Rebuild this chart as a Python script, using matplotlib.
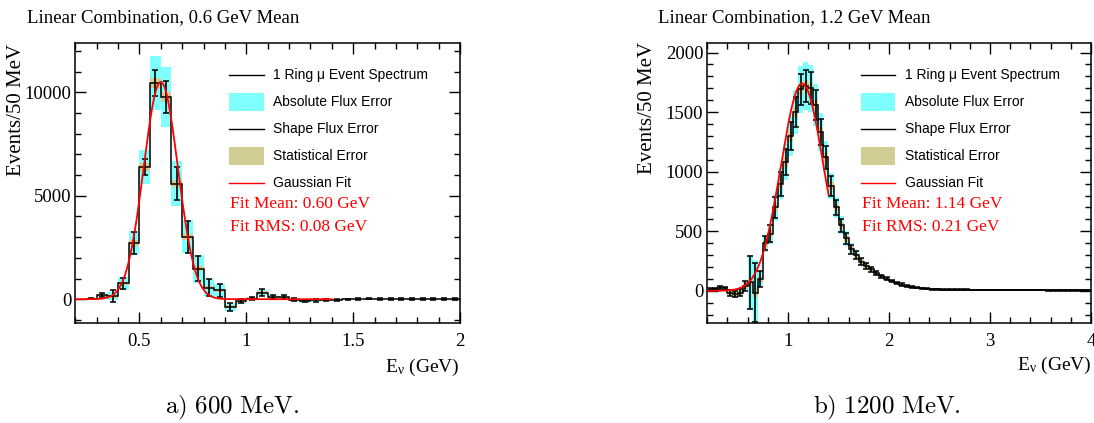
import numpy as np
import matplotlib
matplotlib.use("Agg")
import matplotlib.pyplot as plt
from matplotlib.patches import Rectangle
from matplotlib.ticker import MultipleLocator, FormatStrFormatter

BIN_WIDTH = 0.05

# ---- 0.6 GeV linear combination (bins of 50 MeV starting at 0.25 GeV) ----
lo_first_edge = 0.25
lo_counts = [20, 190, 150, 760, 2720, 6390, 10450, 9770, 5590, 3010,
             1480, 560, 430, -370, -100, 30, 320, 110, 110, -20,
             -80, -60, -40, -30, -10, 10, 20, 10, 10, 10,
             5, 5, 5, 5, 5]
lo_shape_err = [30, 100, 290, 265, 520, 400, 630, 765, 780, 770,
                600, 420, 310, 200, 100, 80, 150, 80, 80, 60,
                60, 60, 50, 40, 30, 30, 30, 30, 30, 30,
                30, 30, 30, 30, 30]
lo_abs_err = [20, 60, 200, 300, 560, 820, 1290, 1450, 1100, 800,
              680, 400, 300, 200, 120, 60, 120, 80, 60, 60,
              100, 60, 40, 30, 20, 10, 10, 10, 10, 10,
              5, 5, 5, 5, 5]
lo_stat_err = [40, 70, 70, 90, 150, 200, 240, 230, 180, 140,
               110, 80, 80, 70, 60, 60, 70, 60, 60, 50,
               50, 50, 40, 40, 30, 20, 20, 20, 20, 20,
               20, 20, 20, 20, 20]
lo_fit_mean = 0.60
lo_fit_rms = 0.08
lo_fit_amp = 10500
lo_fit_range = (0.2, 1.4)

# ---- 1.2 GeV linear combination (bins of 50 MeV starting at 0.2 GeV) ----
hi_first_edge = 0.2
hi_counts = [10, 15, 25, 20, -20, -25, -15, 40, 70, -15,
             100, 400, 480, 700, 900, 1080, 1300, 1500, 1690, 1720,
             1700, 1560, 1330, 1120, 880, 700, 550, 440, 350, 300,
             245, 210, 180, 150, 122, 100, 82, 66, 53, 42,
             33, 26, 21, 17, 14, 12, 11, 10, 10, 9,
             9, 9, 8, 8, 8, 8, 7, 7, 7, 7,
             7, 6, 6, 6, 6, 6, 6, 5, 5, 5,
             5, 5, 5, 5, 5, 5]
hi_shape_err = [10, 12, 15, 15, 25, 25, 30, 45, 226, 250,
                65, 60, 70, 90, 100, 110, 120, 125, 130, 135,
                135, 125, 110, 95, 80, 65, 55, 45, 38, 32,
                28, 24, 20, 18, 15, 13, 11, 10, 9, 8,
                7, 6, 5, 5, 4, 4, 3, 3, 3, 3,
                3, 3, 3, 3, 3, 3, 3, 3, 3, 3,
                3, 3, 3, 3, 3, 3, 3, 3, 3, 3,
                3, 3, 3, 3, 3, 3]
hi_abs_err = [5, 8, 12, 15, 25, 30, 30, 45, 230, 270,
              60, 70, 85, 110, 130, 150, 170, 185, 195, 200,
              195, 180, 160, 135, 110, 90, 75, 60, 48, 40,
              33, 28, 24, 20, 17, 14, 12, 10, 8, 7,
              6, 5, 4, 4, 3, 3, 2, 2, 2, 2,
              2, 2, 2, 2, 2, 2, 2, 2, 2, 2,
              2, 2, 2, 2, 2, 2, 2, 2, 2, 2,
              2, 2, 2, 2, 2, 2]
hi_stat_err = [10, 10, 12, 12, 15, 15, 18, 22, 30, 35,
               25, 30, 32, 35, 37, 40, 42, 44, 46, 46,
               46, 44, 42, 40, 36, 32, 29, 26, 23, 21,
               19, 17, 16, 14, 13, 12, 11, 10, 9, 8,
               7, 7, 6, 6, 5, 5, 4, 4, 4, 4,
               4, 4, 4, 4, 4, 4, 4, 4, 4, 4,
               4, 4, 4, 4, 4, 4, 4, 4, 4, 4,
               4, 4, 4, 4, 4, 4]
hi_fit_mean = 1.14
hi_fit_rms = 0.21
hi_fit_amp = 1740
hi_fit_range = (0.2, 1.4)

legend_labels = ["1 Ring \u03bc Event Spectrum", "Absolute Flux Error",
                 "Shape Flux Error", "Statistical Error", "Gaussian Fit"]

CYAN = "#80FFFF"
TAN = "#D0CC94"
RED = "#FF0000"
SERIF = "Liberation Serif"
SANS = "Liberation Sans"

plt.rcParams["font.family"] = SERIF
plt.rcParams["xtick.labelsize"] = 13.5
plt.rcParams["ytick.labelsize"] = 13.5
plt.rcParams["mathtext.fontset"] = "custom"
plt.rcParams["mathtext.rm"] = SERIF
plt.rcParams["mathtext.it"] = SERIF + ":italic"

fig = plt.figure(figsize=(10.94, 4.23), dpi=100)

W, H = 1094.0, 423.0


def axes_rect(left, top, right, bottom):
    return [left / W, 1 - bottom / H, (right - left) / W, (bottom - top) / H]


def draw_panel(ax, first_edge, counts, shape_err, abs_err, stat_err,
               fit_mean, fit_rms, fit_amp, fit_range):
    counts = np.asarray(counts, float)
    shape_err = np.asarray(shape_err, float)
    abs_err = np.asarray(abs_err, float)
    stat_err = np.asarray(stat_err, float)
    n = len(counts)
    edges = first_edge + BIN_WIDTH * np.arange(n + 1)
    centers = 0.5 * (edges[:-1] + edges[1:])

    ax.bar(centers, 2 * abs_err, bottom=counts - abs_err, width=BIN_WIDTH,
           color=CYAN, linewidth=0, zorder=1)
    ax.bar(centers, 2 * stat_err, bottom=counts - stat_err, width=BIN_WIDTH,
           color=TAN, linewidth=0, zorder=2)
    ax.stairs(counts, edges, color="black", linewidth=1.1, zorder=3)
    ax.errorbar(centers, counts, yerr=shape_err, fmt="none", ecolor="black",
                elinewidth=1.2, capsize=2.0, capthick=1.1, zorder=4)

    xf = np.linspace(fit_range[0], fit_range[1], 500)
    yf = fit_amp * np.exp(-0.5 * ((xf - fit_mean) / fit_rms) ** 2)
    ax.plot(xf, yf, color=RED, linewidth=1.3, zorder=5)

    # key
    x0, x1, xt = 0.40, 0.49, 0.515
    rows = [0.886, 0.789, 0.693, 0.596, 0.500]
    h = 0.064
    tr = ax.transAxes
    ax.plot([x0, x1], [rows[0]] * 2, transform=tr, color="black", lw=1.0)
    ax.add_patch(Rectangle((x0, rows[1] - h / 2), x1 - x0, h, transform=tr,
                           facecolor=CYAN, edgecolor="none"))
    ax.plot([x0, x1], [rows[2]] * 2, transform=tr, color="black", lw=1.0)
    ax.add_patch(Rectangle((x0, rows[3] - h / 2), x1 - x0, h, transform=tr,
                           facecolor=TAN, edgecolor="none"))
    ax.plot([x0, x1], [rows[4]] * 2, transform=tr, color=RED, lw=1.0)
    for r, lab in zip(rows, legend_labels):
        ax.text(xt, r, lab, transform=tr, family=SANS, fontsize=10,
                va="center", ha="left")
    ax.text(0.402, 0.425, f"Fit Mean: {fit_mean:.2f} GeV", transform=tr,
            family=SERIF, fontsize=12.5, color=RED, va="center", ha="left")
    ax.text(0.402, 0.344, f"Fit RMS: {fit_rms:.2f} GeV", transform=tr,
            family=SERIF, fontsize=12.5, color=RED, va="center", ha="left")

    ax.tick_params(which="both", direction="in", top=True, right=True,
                   width=1.0)
    ax.tick_params(which="major", length=8)
    ax.tick_params(which="minor", length=4)
    ax.tick_params(axis="y", pad=3)
    ax.tick_params(axis="x", pad=7)
    for sp in ax.spines.values():
        sp.set_linewidth(1.1)


# left panel
axL = fig.add_axes(axes_rect(75.3, 43, 460, 323))
draw_panel(axL, lo_first_edge, lo_counts, lo_shape_err, lo_abs_err, lo_stat_err,
           lo_fit_mean, lo_fit_rms, lo_fit_amp, lo_fit_range)
axL.set_xlim(0.2, 2.0)
axL.set_ylim(-1150, 12380)
axL.xaxis.set_major_locator(MultipleLocator(0.5))
axL.xaxis.set_minor_locator(MultipleLocator(0.1))
axL.yaxis.set_major_locator(MultipleLocator(5000))
axL.yaxis.set_minor_locator(MultipleLocator(1000))
axL.xaxis.set_major_formatter(FormatStrFormatter("%g"))
axL.yaxis.set_major_formatter(FormatStrFormatter("%g"))

# right panel
axR = fig.add_axes(axes_rect(707.3, 43, 1091, 323))
draw_panel(axR, hi_first_edge, hi_counts, hi_shape_err, hi_abs_err, hi_stat_err,
           hi_fit_mean, hi_fit_rms, hi_fit_amp, hi_fit_range)
axR.set_xlim(0.2, 4.0)
axR.set_ylim(-270, 2080)
axR.xaxis.set_major_locator(MultipleLocator(1))
axR.xaxis.set_minor_locator(MultipleLocator(0.2))
axR.yaxis.set_major_locator(MultipleLocator(500))
axR.yaxis.set_minor_locator(MultipleLocator(100))
axR.xaxis.set_major_formatter(FormatStrFormatter("%g"))
axR.yaxis.set_major_formatter(FormatStrFormatter("%g"))

# titles, axis labels and captions
fig.text(27 / W, 1 - 18 / H, "Linear Combination, 0.6 GeV Mean", family=SERIF,
         fontsize=13.5, ha="left", va="center")
fig.text(658 / W, 1 - 18 / H, "Linear Combination, 1.2 GeV Mean", family=SERIF,
         fontsize=13.5, ha="left", va="center")

fig.text(17 / W, 1 - 44 / H, "Events/50 MeV", family=SERIF, fontsize=15,
         rotation=90, ha="center", va="top")
fig.text(648 / W, 1 - 42 / H, "Events/50 MeV", family=SERIF, fontsize=15,
         rotation=90, ha="center", va="top")

fig.text(460 / W, 1 - 367 / H, r"E$_{\mathrm{\nu}}$ (GeV)", family=SERIF,
         fontsize=14, ha="right", va="center")
fig.text(1092 / W, 1 - 365 / H, r"E$_{\mathrm{\nu}}$ (GeV)", family=SERIF,
         fontsize=14, ha="right", va="center")

fig.text(232 / W, 1 - 408 / H, r"$\mathrm{a)\ 600\ MeV.}$", fontsize=18,
         ha="center", va="center", math_fontfamily="cm")
fig.text(887 / W, 1 - 408 / H, r"$\mathrm{b)\ 1200\ MeV.}$", fontsize=18,
         ha="center", va="center", math_fontfamily="cm")

fig.savefig("out.png", dpi=100)
